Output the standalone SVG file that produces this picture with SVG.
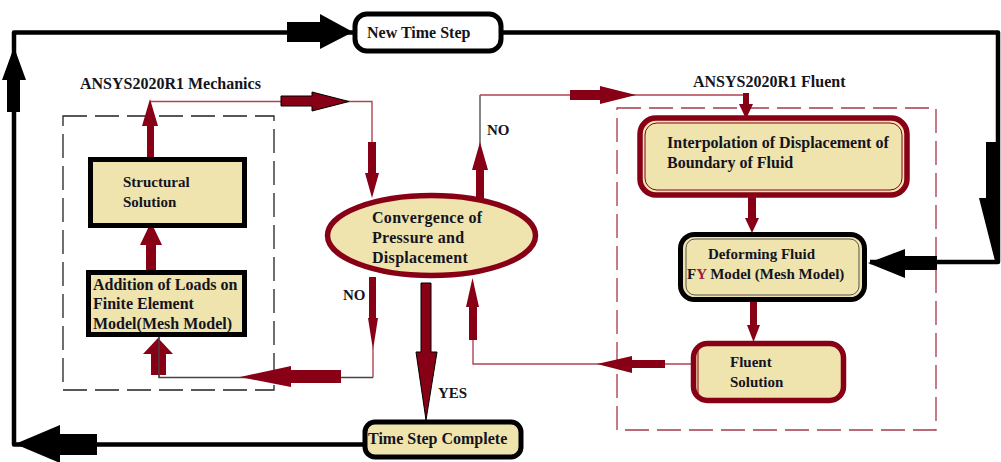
<svg xmlns="http://www.w3.org/2000/svg" width="1001" height="462" viewBox="0 0 1001 462">
<style>
text{font-family:"Liberation Serif","Times New Roman",serif;font-weight:bold;font-size:16px;fill:#141420}
.s15{font-size:15px}
.beige{fill:#EFE3AE}
.blk{stroke:#000;stroke-width:5;fill:#EFE3AE}
.red{stroke:#870016;stroke-width:5.5;fill:#EFE3AE}
.thinr{fill:none;stroke:#B04452;stroke-width:1.4}
.thing{fill:none;stroke:#444;stroke-width:1.3}
.loop{fill:none;stroke:#000;stroke-width:4.5;stroke-linejoin:round}
.ar{fill:#870016}
.arb{fill:#870016;stroke:#000;stroke-width:1}
.bk{fill:#000}
</style>
<g id="containers">
<rect x="63" y="116" width="211" height="274" fill="none" stroke="#222" stroke-width="1.3" stroke-dasharray="24 8"/>
<rect x="617" y="108" width="319" height="322" fill="none" stroke="#A83848" stroke-width="1.3" stroke-dasharray="24 8"/>
<text x="80" y="89">ANSYS2020R1 Mechanics</text>
<text x="693" y="87">ANSYS2020R1 Fluent</text>
</g>
<g id="connectors">
<!-- outer black loops -->
<path class="loop" d="M365,444.5 H14 V32.5 H355"/>
<path class="loop" d="M501,32.5 H998 V262 H870"/>
<polygon class="bk" points="15,444 60,425 60,434 97,434 97,455 60,455 60,463"/>
<polygon class="bk" points="14,47 26,80 20,80 20,112 7,112 7,80 2,80"/>
<polygon class="bk" points="287,22 320,22 320,14 353,32 320,49 320,42 287,42"/>
<polygon class="bk" points="986,142 1000,142 1000,261 995,261 979,198 986,198"/>
<polygon class="bk" points="937,256 937,270 905,270 905,278 868,263 905,249 905,256"/>
<!-- mechanics to convergence -->
<path class="thinr" d="M150,101.5 H372 V142"/>
<polygon class="ar" points="150,99 158,126 154,126 154,157 147,157 147,126 142,126"/>
<polygon class="arb" points="281,96 312,96 312,92 349,101.5 312,111 312,106 281,106"/>
<polygon class="ar" points="368,142 376,142 376,173 379,173 372,198 365,173 368,173"/>
<!-- addition to structural -->
<polygon class="ar" points="151,222 162,245 156,245 156,272 146,272 146,245 140,245"/>
<!-- NO bottom branch -->
<polygon class="ar" points="369,277 376,277 376,318 378,318 373,350 368,318 369,318"/>
<path class="thinr" d="M373,345 V377.5"/>
<path class="thing" d="M373,377.5 H159 V336"/>
<polygon class="ar" points="341,370 341,383 291,383 291,387 240,377 291,366 291,370"/>
<polygon class="ar" points="158,338 173,354 166,354 166,375 151,375 151,354 143,354"/>
<path class="thing" d="M159,336 V378"/>
<!-- YES -->
<polygon class="arb" points="421,283 431,283 431,352 437,352 426,420 416,352 421,352"/>
<!-- NO top branch -->
<path class="thing" d="M480,145 V95"/>
<path class="thinr" d="M480,95 H746 V100"/>
<polygon class="ar" points="480,142 488,170 484,170 484,198 476,198 476,170 472,170"/>
<polygon class="ar" points="570,90 600,90 600,86 636,95 600,104 600,100 570,100"/>
<polygon class="ar" points="743,93 749,93 749,104 753,104 746,119 739,104 743,104"/>
<!-- fluent chain -->
<polygon class="ar" points="748,197 756,197 756,218 759,218 752,233 745,218 748,218"/>
<polygon class="ar" points="750,302 757,302 757,325 760,325 753.5,342 747,325 750,325"/>
<path class="thinr" d="M691,364 H473 V340"/>
<polygon class="ar" points="665,360 665,368 632,368 632,373 597,364 632,356 632,360"/>
<polygon class="ar" points="472.5,278 479,307 477,307 477,340 469,340 469,307 466,307"/>
</g>
<g id="new-time-step">
<rect class="blk" x="355" y="14" width="146" height="37" rx="12" fill="#fff" style="fill:#fff" stroke-width="4.5"/>
<text x="367" y="38">New Time Step</text>
</g>
<g id="structural-solution">
<rect class="blk" x="90.5" y="159.5" width="154" height="66"/>
<text class="s15" x="123" y="187">Structural</text>
<text class="s15" x="123" y="207">Solution</text>
</g>
<g id="addition-of-loads">
<rect class="blk" x="88.5" y="272.5" width="156" height="62"/>
<text x="93" y="290">Addition of Loads on</text>
<text x="93" y="309">Finite Element</text>
<text x="93" y="329">Model(Mesh Model)</text>
</g>
<g id="convergence">
<ellipse class="red" cx="431.5" cy="235.5" rx="104" ry="40"/>
<text x="372" y="223" letter-spacing="0.3">Convergence of</text>
<text x="372" y="243" letter-spacing="0.3">Pressure and</text>
<text x="372" y="263" letter-spacing="0.3">Displacement</text>
</g>
<g id="interpolation">
<rect class="red" x="640" y="118" width="267" height="77" rx="16" stroke-width="6"/>
<rect x="645" y="123" width="257" height="67" rx="12" fill="none" stroke="#870016" stroke-width="1"/>
<text x="667" y="148">Interpolation of Displacement of</text>
<text x="667" y="168">Boundary of Fluid</text>
</g>
<g id="deforming-fluid">
<rect class="blk" x="680.5" y="234.5" width="184" height="65" rx="14"/>
<rect x="686" y="239" width="173" height="56" rx="9" fill="none" stroke="#333" stroke-width="0.8"/>
<text class="s15" x="708" y="259">Deforming Fluid</text>
<text class="s15" x="687" y="279">F<tspan fill="#9B2040">Y</tspan> Model (Mesh Model)</text>
</g>
<g id="fluent-solution">
<rect class="red" x="693.5" y="343.5" width="150" height="57" rx="14"/>
<path d="M698,350 V395" stroke="#870016" stroke-width="1" fill="none"/>
<text class="s15" x="730" y="367">Fluent</text>
<text class="s15" x="730" y="387">Solution</text>
</g>
<g id="time-step-complete">
<rect class="blk" x="365" y="422" width="156" height="35" rx="10"/>
<text x="368" y="444">Time Step Complete</text>
</g>
<g id="labels">
<text class="s15" x="487" y="135">NO</text>
<text class="s15" x="343" y="300">NO</text>
<text class="s15" x="438" y="398">YES</text>
</g>
</svg>
